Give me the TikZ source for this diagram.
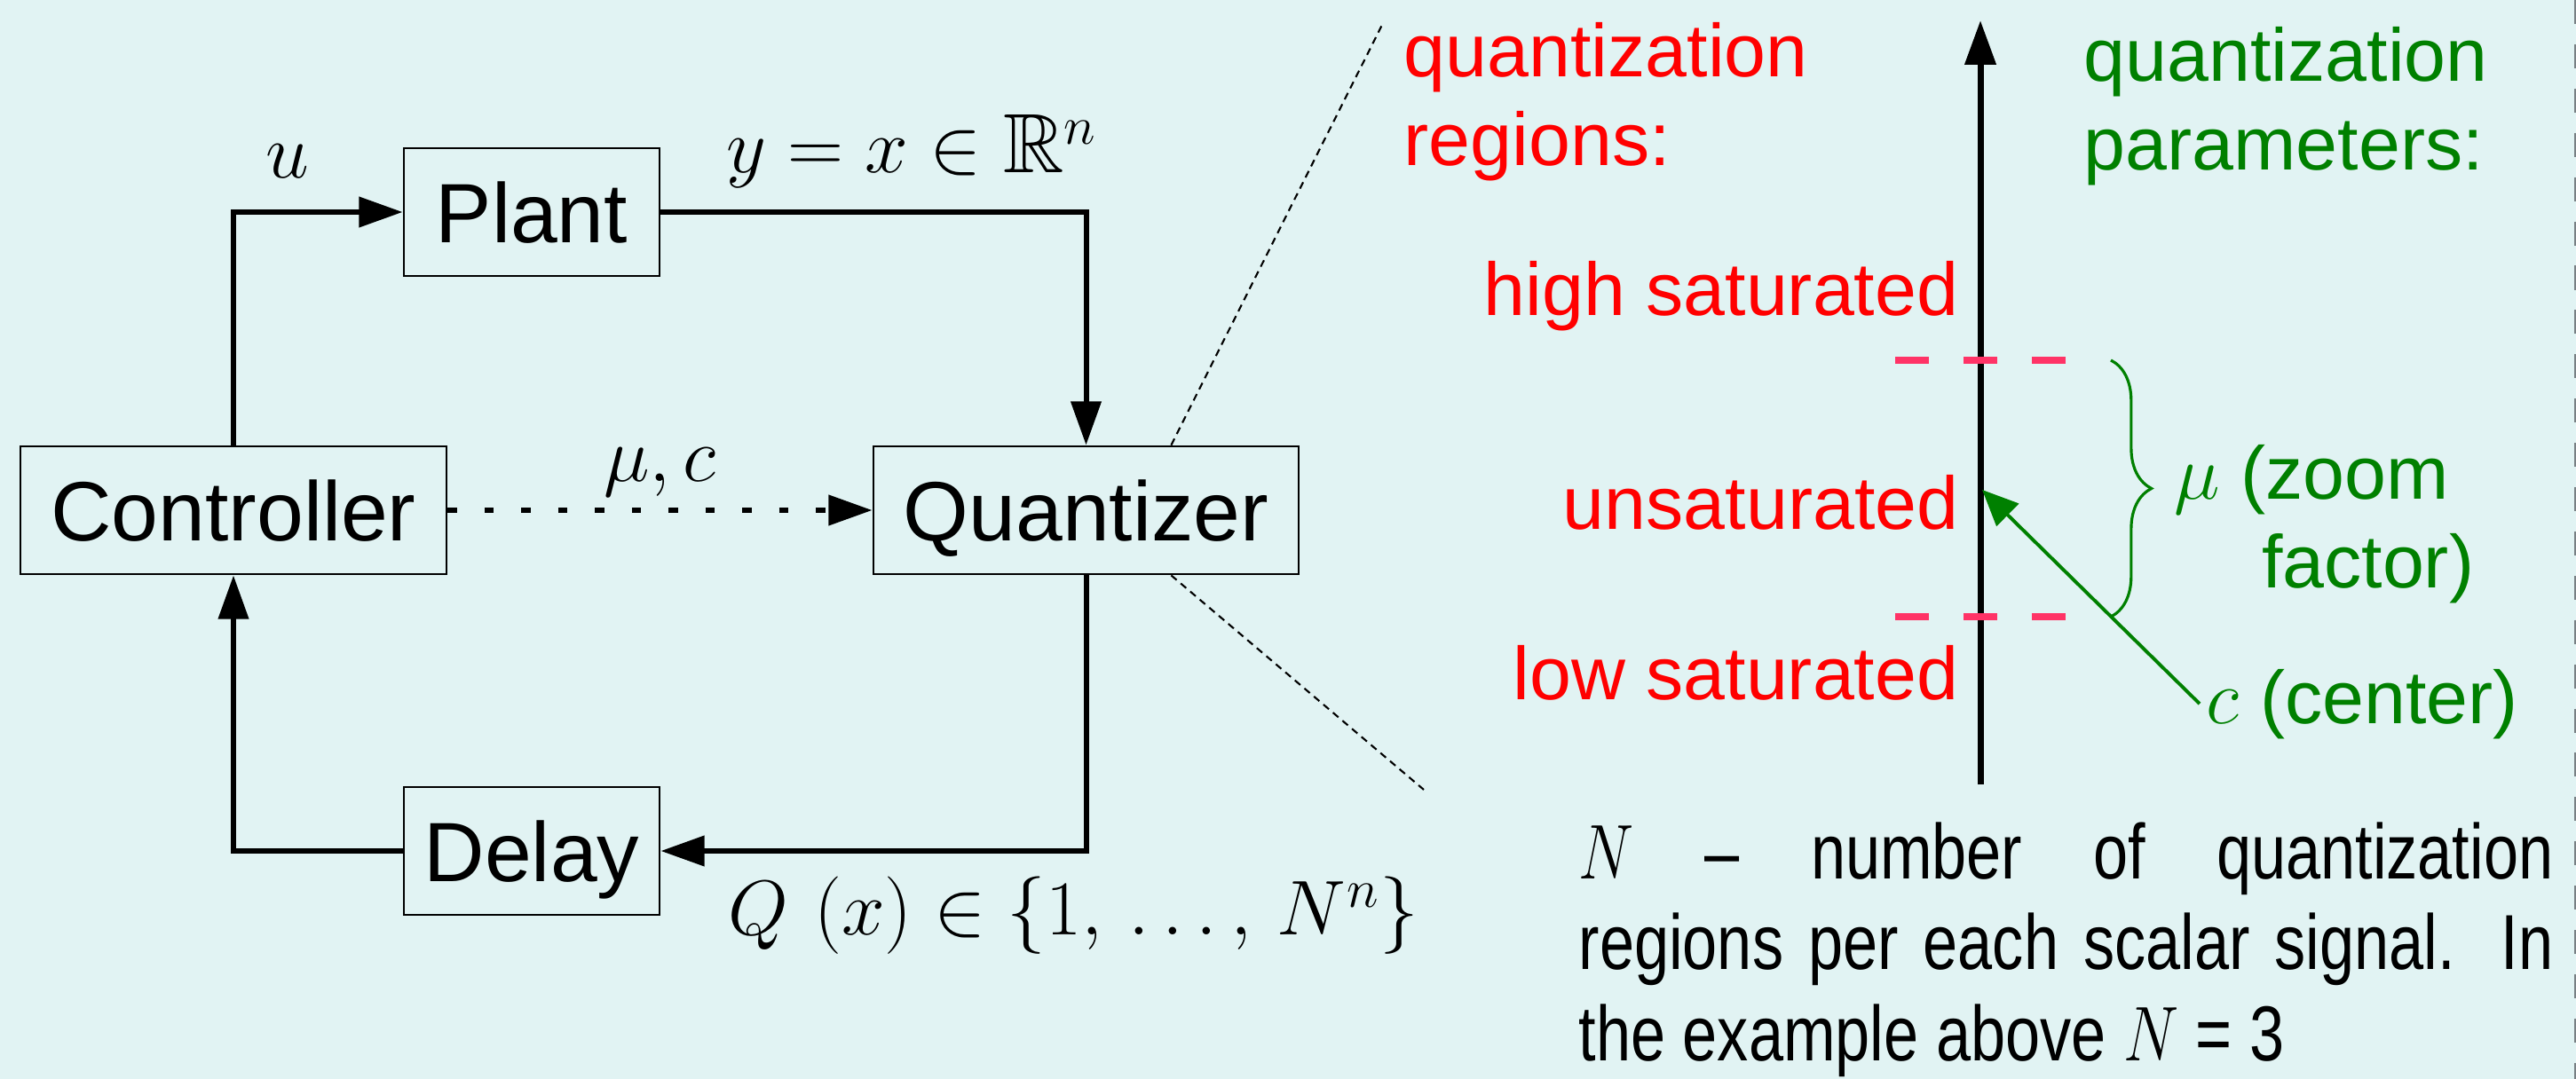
\documentclass[tikz,border=0pt]{standalone}
\usepackage[no-math]{fontspec}
\usepackage{amsmath}
\usepackage{amssymb}
\setmainfont{Liberation Sans}
\usetikzlibrary{arrows.meta,positioning,decorations.pathreplacing}
\definecolor{qBack}{RGB}{225,243,243}
\definecolor{qRed}{RGB}{255,0,0}
\definecolor{qGreen}{RGB}{0,128,0}
\definecolor{qPink}{RGB}{255,51,102}
\definecolor{qFrame}{RGB}{120,128,132}
\newcommand{\blkfont}{\fontsize{27}{32}\selectfont}
\newcommand{\sidefont}{\fontsize{24}{28.7}\selectfont}

\begin{document}
\begin{tikzpicture}[
    blk/.style={rectangle, draw=black, line width=0.8pt, minimum width=2.88cm,
                minimum height=1.44cm, inner sep=0pt, font=\blkfont,
                text height=19.4pt, text depth=0pt},
    sig/.style={-{Triangle[length=14pt,width=9.5pt]}, line width=1.7pt},
    dotsig/.style={sig, dash pattern=on 3pt off 8.8pt},
    lbl/.style={font=\blkfont, inner sep=2pt},
    zoomline/.style={line width=0.6pt, dash pattern=on 2.3pt off 1.7pt},
    axis/.style={-{Triangle[length=14.2pt,width=9.7pt]}, line width=2pt},
    bound/.style={qPink, line width=2pt, dash pattern=on 10.8pt off 11.1pt},
    reg/.style={font=\sidefont, text=qRed, inner sep=0pt, align=left},
    par/.style={font=\sidefont, text=qGreen, inner sep=0pt, align=left},
    brc/.style={decorate, decoration={brace, amplitude=13pt}, qGreen, line width=0.9pt},
    gptr/.style={-{Triangle[length=11.5pt,width=10pt]}, qGreen, line width=1.1pt}
  ]
  \fill[qBack] (0,0) rectangle (29.02,-12.16);
  \useasboundingbox (0,0) rectangle (29.02,-12.16);
  \draw[qFrame, line width=0.6pt, dash pattern=on 7.7pt off 6.5pt] (29.01,0) -- (29.01,-12.16);

  \node[blk, minimum width=4.80cm] (ctrl)  at (2.63,-5.75)   {Controller};
  \node[blk]                       (plant) at (5.99,-2.39)   {Plant};
  \node[blk, minimum width=4.79cm] (quant) at (12.235,-5.75) {Quantizer};
  \node[blk]                       (delay) at (5.99,-9.59)   {Delay};

  \draw[sig] (ctrl.north) |- node[lbl, pos=0.66, above=8pt] {$u$} (plant.west);
  \draw[sig] (plant.east) -| node[lbl, pos=0.295, above=5pt] {$y=x\in\mathbb{R}^n$} (quant.north);
  \draw[sig] (quant.south) |- node[lbl, pos=0.515, below=5.5pt]
    {$Q\,\left(x\right)\in\left\{1,\,\ldots,\,N^n\right\}$} (delay.east);
  \draw[sig] (delay.west) -| (ctrl.south);
  \draw[dotsig] (ctrl.east) -- node[lbl, above=1.5pt] {$\mu,c$} (quant.west);

  \coordinate (ztop) at (15.58,-0.26);
  \coordinate (zbot) at (16.04,-8.90);
  \draw[zoomline] ([xshift=-1.45cm]quant.north east) -- (ztop);
  \draw[zoomline] ([xshift=-1.45cm]quant.south east) -- (zbot);

  \coordinate (axbot) at (22.31,-8.84);
  \coordinate (axtop) at (22.31,-0.23);
  \coordinate (cpt)   at (22.33,-5.52);
  \draw[axis] (axbot) -- (axtop);
  \draw[bound] (21.35,-4.06) -- (23.27,-4.06);
  \draw[bound] (21.35,-6.95) -- (23.27,-6.95);

  \node[reg, anchor=base west] (qreg)  at (15.81,-1.87) {quantization\\regions:};
  \node[par, anchor=base west] (qpar)  at (23.47,-1.92) {quantization\\parameters:};
  \node[reg, anchor=base east] (hisat) at (22.07,-3.56) {high saturated};
  \node[reg, anchor=base east] (unsat) at (22.07,-5.97) {unsaturated};
  \node[reg, anchor=base east] (losat) at (22.07,-7.88) {low saturated};

  \draw[brc] (23.78,-4.06) -- (23.78,-6.95);
  \node[par, align=right, anchor=base west] (zoom) at (24.49,-6.63)
    {$\mu$ (zoom\phantom{)}\\factor)};
  \node[par, inner sep=2pt, anchor=base west] (cent) at (24.78,-8.15) {$c$ (center)};
  \draw[gptr] (cent.west) -- (cpt);

  \node[inner sep=0pt, anchor=base west] (note) at (17.78,-9.90)
    {\scalebox{0.8}[1]{\parbox[t]{13.72cm}{\fontsize{25}{29.3}\selectfont\parindent=0pt
     $N$ -- number of quantization\linebreak regions per each scalar signal. In\linebreak
     the example above $N$ = 3}}};
\end{tikzpicture}
\end{document}
